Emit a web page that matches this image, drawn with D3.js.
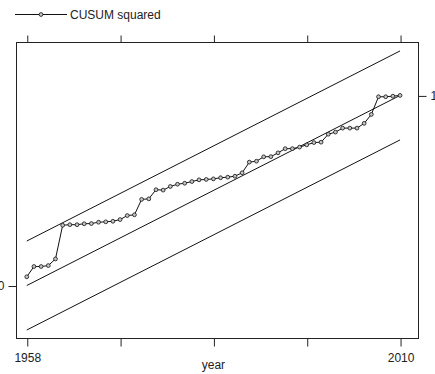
<!DOCTYPE html>
<html>
<head>
<meta charset="utf-8">
<script src="https://cdn.jsdelivr.net/npm/d3@7"></script>
<style>
  html, body { margin: 0; padding: 0; background: #fff; }
  svg { display: block; }
  text { font-family: "Liberation Sans", Arial, sans-serif; fill: #222; }
</style>
</head>
<body>
<div id="chart"></div>
<script>
const years = [
  1958, 1959, 1960, 1961, 1962, 1963, 1964, 1965, 1966, 1967,
  1968, 1969, 1970, 1971, 1972, 1973, 1974, 1975, 1976, 1977,
  1978, 1979, 1980, 1981, 1982, 1983, 1984, 1985, 1986, 1987,
  1988, 1989, 1990, 1991, 1992, 1993, 1994, 1995, 1996, 1997,
  1998, 1999, 2000, 2001, 2002, 2003, 2004, 2005, 2006, 2007,
  2008, 2009, 2010,
];
const cusumSq = [
  0.046, 0.10, 0.10, 0.105, 0.14, 0.317, 0.32, 0.32, 0.325, 0.326,
  0.333, 0.335, 0.338, 0.347, 0.368, 0.372, 0.453, 0.456, 0.504, 0.502,
  0.521, 0.533, 0.538, 0.547, 0.556, 0.558, 0.561, 0.567, 0.57, 0.575,
  0.593, 0.649, 0.654, 0.677, 0.678, 0.698, 0.72, 0.72, 0.728, 0.74,
  0.752, 0.754, 0.796, 0.807, 0.828, 0.828, 0.828, 0.853, 0.9, 0.993,
  0.993, 0.996, 1.0,
];
// expected path and the 5% band around it
const expectedYears = [1958, 2010];
const expectedVals = [0, 1];
const bandOffsets = [0.234, 0, -0.234];

const xTicks = [1958, 1971, 1984, 1997, 2010];
const xLabels = [1958, 2010];
const seriesName = "CUSUM squared";

const width = 435;
const height = 374;
const plot = { left: 16, right: 418, top: 42, bottom: 338 };

const x = d3.scaleLinear([1956.5, 2012.5], [plot.left, plot.right]);
const y = d3.scaleLinear([-0.276, 1.281], [plot.bottom, plot.top]);

const svg = d3.select("#chart")
  .append("svg")
  .attr("width", width)
  .attr("height", height);

// frame
svg.append("rect")
  .attr("x", plot.left + 0.5)
  .attr("y", plot.top + 0.5)
  .attr("width", plot.right - plot.left)
  .attr("height", plot.bottom - plot.top)
  .attr("fill", "none")
  .attr("stroke", "#222")
  .attr("stroke-width", 1);

const tickFmt = (d) => (xLabels.includes(d) ? String(d) : "");

svg.append("g")
  .attr("transform", `translate(0.5, ${plot.bottom + 0.5})`)
  .call(d3.axisBottom(x).tickValues(xTicks).tickFormat(tickFmt).tickSize(8).tickSizeOuter(0))
  .call((g) => g.select(".domain").remove())
  .call((g) => g.selectAll("text").attr("dy", "1.0em").style("font-size", "12px").attr("fill", "#222"));

svg.append("g")
  .attr("transform", `translate(0.5, ${plot.top + 0.5})`)
  .call(d3.axisTop(x).tickValues(xTicks).tickFormat("").tickSize(7).tickSizeOuter(0))
  .call((g) => g.select(".domain").remove());

svg.append("g")
  .attr("transform", `translate(${plot.left + 0.5}, 0.5)`)
  .call(d3.axisLeft(y).tickValues([0]).tickFormat(d3.format("d")).tickSize(8).tickPadding(4).tickSizeOuter(0))
  .call((g) => g.select(".domain").remove())
  .call((g) => g.selectAll("text").style("font-size", "12px").attr("fill", "#222"));

svg.append("g")
  .attr("transform", `translate(${plot.right + 0.5}, 0.5)`)
  .call(d3.axisRight(y).tickValues([1]).tickFormat(d3.format("d")).tickSize(8).tickPadding(4).tickSizeOuter(0))
  .call((g) => g.select(".domain").remove())
  .call((g) => g.selectAll("text").style("font-size", "12px").attr("fill", "#222"));

svg.selectAll(".tick line").attr("stroke", "#222");

// axis title
svg.append("text")
  .attr("x", (x(1958) + x(2010)) / 2)
  .attr("y", 369)
  .attr("text-anchor", "middle")
  .style("font-size", "12px")
  .text("year");

// bounds and expected line
const line = d3.line().x((d) => x(d[0])).y((d) => y(d[1]));
svg.append("g")
  .selectAll("path")
  .data(bandOffsets)
  .join("path")
  .attr("d", (off) => line(expectedYears.map((yr, i) => [yr, expectedVals[i] + off])))
  .attr("fill", "none")
  .attr("stroke", "#111")
  .attr("stroke-width", 1);

// CUSUM squared series
const pts = years.map((yr, i) => [yr, cusumSq[i]]);
svg.append("path")
  .attr("d", line(pts))
  .attr("fill", "none")
  .attr("stroke", "#111")
  .attr("stroke-width", 1);

svg.append("g")
  .selectAll("circle")
  .data(pts)
  .join("circle")
  .attr("cx", (d) => x(d[0]))
  .attr("cy", (d) => y(d[1]))
  .attr("r", 1.9)
  .attr("fill", "#c4c4c4")
  .attr("stroke", "#111")
  .attr("stroke-width", 0.8);

// legend
const legend = svg.append("g").attr("transform", "translate(0, 14.5)");
legend.append("line")
  .attr("x1", 15).attr("x2", 67)
  .attr("stroke", "#111").attr("stroke-width", 1);
legend.append("circle")
  .attr("cx", 41).attr("r", 1.9)
  .attr("fill", "#c4c4c4").attr("stroke", "#111").attr("stroke-width", 0.8);
legend.append("text")
  .attr("x", 70).attr("y", 4)
  .style("font-size", "12px")
  .text(seriesName);
</script>
</body>
</html>
